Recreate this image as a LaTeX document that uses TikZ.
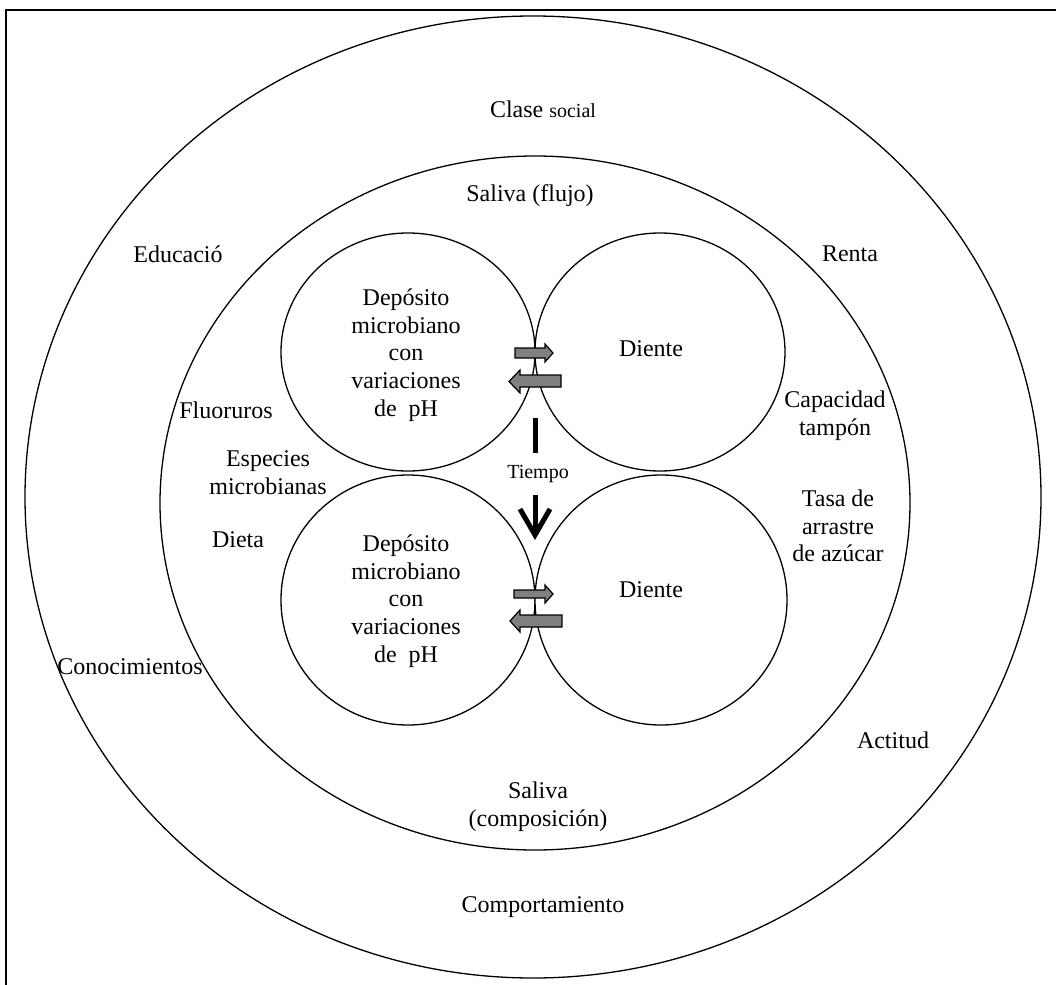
\documentclass[tikz,border=0pt]{standalone}
\usepackage{fontspec}
\setmainfont{Liberation Serif}
\usetikzlibrary{arrows.meta}
\definecolor{arrowgray}{RGB}{128,128,128}
\begin{document}
\begin{tikzpicture}[x=0.5pt,y=-0.5pt,
  ring/.style={draw,line width=0.65pt},
  lbl/.style={font=\fontsize{12}{13.85}\selectfont,align=center,inner sep=0pt},
  small/.style={font=\fontsize{10}{12}\selectfont,inner sep=0pt},
  blockarrow/.style={draw,line width=0.6pt,fill=arrowgray},
  timeline/.style={line width=2.5pt}]
\useasboundingbox (0,0) rectangle (1056,985);
% frame
\draw[line width=1.2pt] (6,985) -- (6,10) -- (1056,10);
% rings
\coordinate (outerc) at (533,497);
\coordinate (midc) at (535,503);
\draw[ring] (outerc) ellipse [x radius=254pt, y radius=240.5pt];
\draw[ring] (midc) ellipse [x radius=187.5pt, y radius=173.5pt];
% inner shapes
\coordinate (ulc) at (408,352);
\coordinate (urc) at (660,352);
\coordinate (llc) at (408,600);
\coordinate (lrc) at (661,600);
\draw[ring,fill=white] (ulc) ellipse [x radius=63.5pt, y radius=59.5pt];
\draw[ring,fill=white] (urc) ellipse [x radius=62.5pt, y radius=59.5pt];
\draw[ring,fill=white] (llc) ellipse [x radius=63.5pt, y radius=62.5pt];
\draw[ring,fill=white] (lrc) ellipse [x radius=63pt, y radius=62.5pt];
% texts
\node[lbl] (clase) at (543,109) {Clase {\fontsize{10}{12}\selectfont social}};
\node[lbl] (flujo) at (530,196) {Saliva (flujo)};
\node[lbl] (educ) at (178,254) {Educació};
\node[lbl] (renta) at (850,254) {Renta};
\node[lbl] (dep1) at (406,355) {Depósito\\microbiano\\con\\variaciones\\de \ pH};
\node[lbl] (dep2) at (406,601) {Depósito\\microbiano\\con\\variaciones\\de \ pH};
\node[lbl] (die1) at (651,349) {Diente};
\node[lbl] (die2) at (651,590) {Diente};
\node[lbl] (fluor) at (226,410) {Fluoruros};
\node[lbl] (espec) at (268,473) {Especies\\microbianas};
\node[lbl] (dieta) at (238,540) {Dieta};
\node[lbl] (capac) at (835,416) {Capacidad\\tampón};
\node[lbl] (tasa) at (838,526) {Tasa de\\arrastre\\de azúcar};
\node[lbl] (conoc) at (130,667) {Conocimientos};
\node[lbl] (actit) at (893,740) {Actitud};
\node[lbl] (salcomp) at (538,807) {Saliva\\(composición)};
\node[lbl] (comport) at (543,907) {Comportamiento};
\node[small] (tiempo) at (538,474) {Tiempo};
% time arrow
\coordinate (t1) at (535,418);
\coordinate (t2) at (535,540);
\draw[timeline] (t1) -- ([yshift=6pt]tiempo.north -| t1);
\draw[timeline,-{Straight Barb[length=13pt,width=15pt,line width=2.5pt]}] ([yshift=-6pt]tiempo.south -| t1) -- (t2);
% exchange arrows (upper)
\draw[blockarrow] (515,348) -- (545,348) -- (545,344) -- (553,353) -- (545,362) -- (545,358) -- (515,358) -- cycle;
\draw[blockarrow] (561,375) -- (520,375) -- (520,370) -- (509,381.5) -- (520,393) -- (520,387) -- (561,387) -- cycle;
% exchange arrows (lower)
\draw[blockarrow] (514,590) -- (545,590) -- (545,585) -- (553,594) -- (545,603) -- (545,598) -- (514,598) -- cycle;
\draw[blockarrow] (562,615) -- (520,615) -- (520,610) -- (510,621) -- (520,632) -- (520,627) -- (562,627) -- cycle;
\end{tikzpicture}
\end{document}
